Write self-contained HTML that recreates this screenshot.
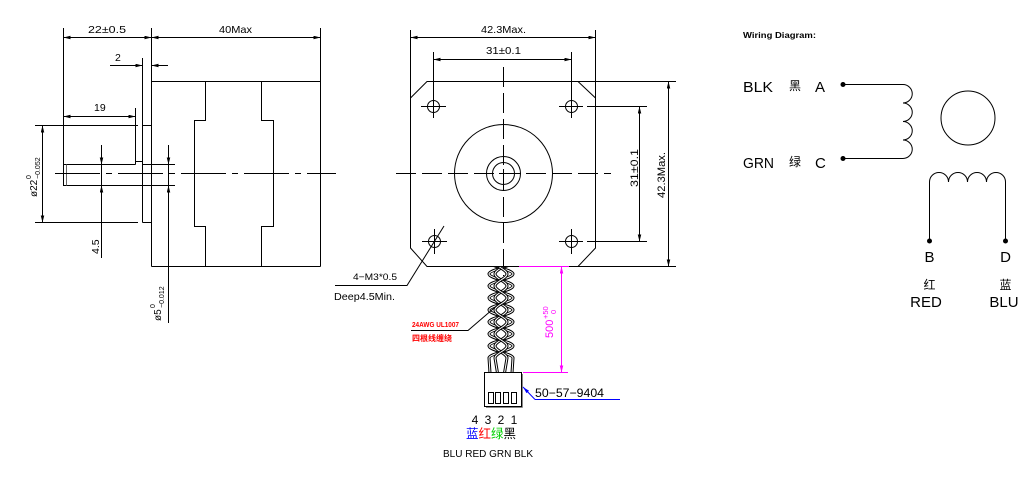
<!DOCTYPE html>
<html><head><meta charset="utf-8"><style>
html,body{margin:0;padding:0;background:#fff;}
svg{display:block;}
text{font-family:"Liberation Sans","Noto Sans CJK SC",sans-serif;fill:#000;}
</style></head><body>
<svg width="1031" height="494" viewBox="0 0 1031 494" xmlns="http://www.w3.org/2000/svg">
<defs>
<marker id="ar" markerUnits="userSpaceOnUse" markerWidth="8" markerHeight="4" refX="7" refY="1.75" orient="auto-start-reverse"><path d="M0,0 L7,1.75 L0,3.5 z" fill="#000"/></marker>
<marker id="arp" markerUnits="userSpaceOnUse" markerWidth="8" markerHeight="4" refX="7" refY="1.75" orient="auto-start-reverse"><path d="M0,0 L7,1.75 L0,3.5 z" fill="#ff00ff"/></marker>
<marker id="arb" markerUnits="userSpaceOnUse" markerWidth="8" markerHeight="4" refX="7" refY="1.75" orient="auto-start-reverse"><path d="M0,0 L7,1.75 L0,3.5 z" fill="#0000ff"/></marker>
<clipPath id="cc"><rect x="478" y="267" width="50" height="110"/></clipPath>
</defs>

<!-- ============ LEFT VIEW ============ -->
<g stroke="#000" stroke-width="1" fill="none">
<line x1="63.5" y1="28" x2="63.5" y2="164"/>
<line x1="151.5" y1="28" x2="151.5" y2="266.5"/>
<line x1="320.5" y1="28" x2="320.5" y2="266.5"/>
<line x1="63.5" y1="37.5" x2="151.5" y2="37.5" marker-start="url(#ar)" marker-end="url(#ar)"/>
<line x1="151.5" y1="37.5" x2="320.5" y2="37.5" marker-start="url(#ar)" marker-end="url(#ar)"/>
<line x1="110" y1="65.5" x2="142.5" y2="65.5" marker-end="url(#ar)"/>
<line x1="168" y1="65.5" x2="151.5" y2="65.5" marker-end="url(#ar)"/>
<line x1="142.5" y1="58" x2="142.5" y2="222.5"/>
<line x1="151.5" y1="81.5" x2="320.5" y2="81.5"/>
<line x1="151.5" y1="266.5" x2="320.5" y2="266.5"/>
<polyline points="205.5,81.5 205.5,120.5 194.5,120.5 194.5,226.5 205.5,226.5 205.5,266.5"/>
<polyline points="261.5,81.5 261.5,120.5 273.5,120.5 273.5,226.5 261.5,226.5 261.5,266.5"/>
<line x1="63.5" y1="116.5" x2="135.5" y2="116.5" marker-start="url(#ar)" marker-end="url(#ar)"/>
<line x1="135.5" y1="108" x2="135.5" y2="164.5"/>
<line x1="35" y1="125.5" x2="138" y2="125.5"/>
<line x1="142.5" y1="125.5" x2="151.5" y2="125.5"/>
<line x1="35" y1="222.5" x2="138" y2="222.5"/>
<line x1="142.5" y1="222.5" x2="151.5" y2="222.5"/>
<line x1="42.5" y1="125.5" x2="42.5" y2="222.5" marker-start="url(#ar)" marker-end="url(#ar)"/>
<polyline points="135.5,164.5 63.5,164.5 63.5,185.5 142.5,185.5"/>
<line x1="135.5" y1="161.5" x2="142.5" y2="161.5"/>
<line x1="66.5" y1="164.5" x2="66.5" y2="185.5" stroke="#666"/>
<line x1="142.5" y1="164.5" x2="175" y2="164.5"/>
<line x1="142.5" y1="185.5" x2="175" y2="185.5"/>
<line x1="168.5" y1="145" x2="168.5" y2="164.5" marker-end="url(#ar)"/>
<line x1="168.5" y1="164.5" x2="168.5" y2="185.5"/>
<line x1="168.5" y1="323" x2="168.5" y2="185.5" marker-end="url(#ar)"/>
<line x1="101.5" y1="145" x2="101.5" y2="164.5" marker-end="url(#ar)"/>
<line x1="101.5" y1="164.5" x2="101.5" y2="185.5"/>
<line x1="101.5" y1="258" x2="101.5" y2="185.5" marker-end="url(#ar)"/>
<line x1="55" y1="173.5" x2="336" y2="173.5" stroke-dasharray="45 6 6 6"/>
</g>
<text x="88" y="33" font-size="10.5" textLength="38" lengthAdjust="spacingAndGlyphs">22±0.5</text>
<text x="219" y="33" font-size="10.5" textLength="33" lengthAdjust="spacingAndGlyphs">40Max</text>
<text x="115" y="61" font-size="10.5">2</text>
<text x="94" y="111" font-size="10.5">19</text>
<g transform="translate(37,197) rotate(-90)"><text x="0" y="0" font-size="10">ø22<tspan x="18" dy="-6" font-size="7">0</tspan><tspan x="18" dy="9" font-size="7">−0.052</tspan></text></g>
<g transform="translate(99,254) rotate(-90)"><text x="0" y="0" font-size="10.5">4.5</text></g>
<g transform="translate(161,321) rotate(-90)"><text x="0" y="0" font-size="10">ø5<tspan x="13" dy="-6" font-size="7">0</tspan><tspan x="13" dy="9" font-size="7">−0.012</tspan></text></g>

<!-- ============ MIDDLE VIEW ============ -->
<g stroke="#000" stroke-width="1" fill="none">
<line x1="410.5" y1="30" x2="410.5" y2="98"/>
<line x1="595.5" y1="30" x2="595.5" y2="98"/>
<line x1="410.5" y1="37.5" x2="595.5" y2="37.5" marker-start="url(#ar)" marker-end="url(#ar)"/>
<line x1="433.5" y1="52" x2="433.5" y2="118"/>
<line x1="571.5" y1="52" x2="571.5" y2="118"/>
<line x1="433.5" y1="59.5" x2="571.5" y2="59.5" marker-start="url(#ar)" marker-end="url(#ar)"/>
<polyline points="519,266.5 427,266.5 410.5,248 410.5,98 427,81.5 578,81.5 595.5,98 595.5,248 578,266.5 569,266.5"/>
<line x1="578" y1="81.5" x2="676" y2="81.5"/>
<line x1="578" y1="266.5" x2="676" y2="266.5"/>
<line x1="587" y1="106.5" x2="647" y2="106.5"/>
<line x1="587" y1="241.5" x2="647" y2="241.5"/>
<line x1="639.5" y1="106.5" x2="639.5" y2="241.5" marker-start="url(#ar)" marker-end="url(#ar)"/>
<line x1="668.5" y1="81.5" x2="668.5" y2="266.5" marker-start="url(#ar)" marker-end="url(#ar)"/>
<!-- holes -->
<circle cx="433.5" cy="106.5" r="6"/><line x1="421" y1="106.5" x2="446" y2="106.5"/>
<circle cx="571.5" cy="106.5" r="6"/><line x1="559" y1="106.5" x2="583" y2="106.5"/>
<circle cx="434.5" cy="241.5" r="6"/><line x1="422" y1="241.5" x2="447" y2="241.5"/><line x1="434.5" y1="229" x2="434.5" y2="254"/>
<circle cx="571.5" cy="241.5" r="6"/><line x1="559" y1="241.5" x2="583" y2="241.5"/><line x1="571.5" y1="229" x2="571.5" y2="254"/>
<!-- center -->
<circle cx="503.5" cy="173.5" r="49"/>
<circle cx="503.5" cy="173.5" r="17"/>
<circle cx="503.5" cy="173.5" r="11"/>
<line x1="503.5" y1="67" x2="503.5" y2="276" stroke-dasharray="20 6"/>
<line x1="396" y1="173.5" x2="611" y2="173.5" stroke-dasharray="20 6"/>
<line x1="499" y1="173.5" x2="508" y2="173.5"/>
<line x1="503.5" y1="169" x2="503.5" y2="178"/>
<!-- leader 4-M3 -->
<polyline points="444,226 407,285.5 335,285.5"/>
</g>
<text x="481" y="33" font-size="10.5" textLength="45" lengthAdjust="spacingAndGlyphs">42.3Max.</text>
<text x="486" y="54" font-size="10.5" textLength="35" lengthAdjust="spacingAndGlyphs">31±0.1</text>
<g transform="translate(638,187) rotate(-90)"><text x="0" y="0" font-size="11" textLength="38" lengthAdjust="spacingAndGlyphs">31±0.1</text></g>
<g transform="translate(665,198) rotate(-90)"><text x="0" y="0" font-size="11" textLength="46" lengthAdjust="spacingAndGlyphs">42.3Max.</text></g>
<text x="353" y="280" font-size="9.5" textLength="44" lengthAdjust="spacingAndGlyphs">4−M3*0.5</text>
<text x="334" y="300" font-size="10" textLength="61" lengthAdjust="spacingAndGlyphs">Deep4.5Min.</text>

<!-- cable -->
<g clip-path="url(#cc)" fill="none">
<path stroke="#000" stroke-width="3" d="M513,262 C513,266.3 489,269.7 489,274 S513,281.7 513,286 S489,293.7 489,298 S513,305.7 513,310 S489,317.7 489,322 S513,329.7 513,334 S489,341.7 489,346 S513,353.7 513,358 L512,373"/>
<path stroke="#fff" stroke-width="1" d="M513,262 C513,266.3 489,269.7 489,274 S513,281.7 513,286 S489,293.7 489,298 S513,305.7 513,310 S489,317.7 489,322 S513,329.7 513,334 S489,341.7 489,346 S513,353.7 513,358 L512,373"/>
<path stroke="#000" stroke-width="3" d="M489,262 C489,266.3 513,269.7 513,274 S489,281.7 489,286 S513,293.7 513,298 S489,305.7 489,310 S513,317.7 513,322 S489,329.7 489,334 S513,341.7 513,346 S489,353.7 489,358 L490,373"/>
<path stroke="#fff" stroke-width="1" d="M489,262 C489,266.3 513,269.7 513,274 S489,281.7 489,286 S513,293.7 513,298 S489,305.7 489,310 S513,317.7 513,322 S489,329.7 489,334 S513,341.7 513,346 S489,353.7 489,358 L490,373"/>
<path stroke="#000" stroke-width="3" d="M507,262 C507,266.3 495,269.7 495,274 S507,281.7 507,286 S495,293.7 495,298 S507,305.7 507,310 S495,317.7 495,322 S507,329.7 507,334 S495,341.7 495,346 S507,353.7 507,358 L504.5,373"/>
<path stroke="#fff" stroke-width="1" d="M507,262 C507,266.3 495,269.7 495,274 S507,281.7 507,286 S495,293.7 495,298 S507,305.7 507,310 S495,317.7 495,322 S507,329.7 507,334 S495,341.7 495,346 S507,353.7 507,358 L504.5,373"/>
<path stroke="#000" stroke-width="3" d="M495,262 C495,266.3 507,269.7 507,274 S495,281.7 495,286 S507,293.7 507,298 S495,305.7 495,310 S507,317.7 507,322 S495,329.7 495,334 S507,341.7 507,346 S495,353.7 495,358 L497.5,373"/>
<path stroke="#fff" stroke-width="1" d="M495,262 C495,266.3 507,269.7 507,274 S495,281.7 495,286 S507,293.7 507,298 S495,305.7 495,310 S507,317.7 507,322 S495,329.7 495,334 S507,341.7 507,346 S495,353.7 495,358 L497.5,373"/>
</g>
<!-- red labels -->
<polyline points="411,330.5 468,330.5 500,303" fill="none" stroke="#000" stroke-width="1"/>
<text x="412" y="327" font-size="7.5" font-weight="bold" style="fill:#ff0000" textLength="47" lengthAdjust="spacingAndGlyphs">24AWG UL1007</text>
<text x="412" y="341" font-size="8" font-weight="bold" style="fill:#ff0000" textLength="40" lengthAdjust="spacingAndGlyphs">四根线缠绕</text>
<!-- pink dim -->
<g stroke="#ff00ff" stroke-width="1" fill="none">
<line x1="519" y1="266.5" x2="569" y2="266.5"/>
<line x1="523" y1="372.5" x2="568" y2="372.5"/>
<line x1="561.5" y1="266.5" x2="561.5" y2="372.5" marker-start="url(#arp)" marker-end="url(#arp)"/>
</g>
<g transform="translate(553,338) rotate(-90)"><text x="0" y="0" font-size="11" style="fill:#ff00ff">500<tspan x="19" dy="-5" font-size="7.5">+50</tspan><tspan x="24" dy="8" font-size="7.5">0</tspan></text></g>
<!-- connector -->
<g stroke="#000" stroke-width="1" fill="none">
<rect x="484.5" y="372.5" width="37" height="34" fill="#fff"/>
<line x1="522.5" y1="374" x2="522.5" y2="407.5" stroke="#888"/>
<line x1="486" y1="407.5" x2="522.5" y2="407.5" stroke="#888"/>
<rect x="488.5" y="392.5" width="5" height="11"/>
<rect x="495.5" y="392.5" width="5" height="11"/>
<rect x="503.5" y="392.5" width="5" height="11"/>
<rect x="511.5" y="392.5" width="5" height="11"/>
</g>
<g stroke="#0000ff" stroke-width="1" fill="none">
<line x1="535" y1="399.5" x2="523" y2="387" marker-end="url(#arb)"/>
<line x1="535" y1="399.5" x2="620" y2="399.5"/>
</g>
<text x="535" y="397" font-size="12" textLength="69" lengthAdjust="spacingAndGlyphs">50−57−9404</text>
<g font-size="12" text-anchor="middle">
<text x="475" y="424" text-anchor="middle">4</text>
<text x="488" y="424" text-anchor="middle">3</text>
<text x="501" y="424" text-anchor="middle">2</text>
<text x="514" y="424" text-anchor="middle">1</text>
</g>
<text x="466" y="438" font-size="12.5"><tspan style="fill:#0000ff">蓝</tspan><tspan style="fill:#ff0000">红</tspan><tspan style="fill:#00d000">绿</tspan><tspan style="fill:#000">黑</tspan></text>
<text x="443" y="457" font-size="10" textLength="90" lengthAdjust="spacingAndGlyphs">BLU RED GRN BLK</text>

<!-- ============ WIRING DIAGRAM ============ -->
<text x="743" y="38" font-size="8" font-weight="bold" textLength="73" lengthAdjust="spacingAndGlyphs">Wiring Diagram:</text>
<text x="743" y="92" font-size="15" textLength="30" lengthAdjust="spacingAndGlyphs">BLK</text>
<text x="789" y="90" font-size="12">黑</text>
<text x="815" y="92" font-size="15">A</text>
<text x="743" y="168" font-size="15" textLength="31" lengthAdjust="spacingAndGlyphs">GRN</text>
<text x="789" y="166" font-size="12">绿</text>
<text x="815" y="168" font-size="15">C</text>
<g stroke="#000" stroke-width="1" fill="none">
<path d="M843,84.5 L903,84.5 A9.25,9.25 0 0 1 903,103 A9.25,9.25 0 0 1 903,121.5 A9.25,9.25 0 0 1 903,140 A9.25,9.25 0 0 1 903,158.5 L843,158.5"/>
<circle cx="968" cy="118" r="27"/>
<path d="M929.5,241 L929.5,182 A9.5,9.5 0 0 1 948.5,182 A9.5,9.5 0 0 1 967.5,182 A9.5,9.5 0 0 1 986.5,182 A9.5,9.5 0 0 1 1005.5,182 L1005.5,241"/>
</g>
<g fill="#000">
<circle cx="843" cy="84.5" r="2.5"/>
<circle cx="843" cy="158.5" r="2.5"/>
<circle cx="929.5" cy="241" r="2.5"/>
<circle cx="1005.5" cy="241" r="2.5"/>
</g>
<text x="929.5" y="262" font-size="15" text-anchor="middle">B</text>
<text x="1005.5" y="262" font-size="15" text-anchor="middle">D</text>
<text x="929.5" y="289" font-size="12" text-anchor="middle">红</text>
<text x="1005.5" y="289" font-size="12" text-anchor="middle">蓝</text>
<text x="926" y="307" font-size="15" text-anchor="middle">RED</text>
<text x="1004" y="307" font-size="15" text-anchor="middle">BLU</text>
</svg>
</body></html>
